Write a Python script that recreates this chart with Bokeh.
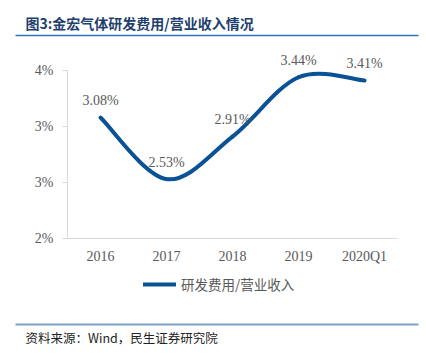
from bokeh.plotting import figure
from bokeh.models import (ColumnDataSource, LabelSet, Label, Legend, LegendItem,
                          FixedTicker, Range1d, LinearAxis)
from bokeh.core.properties import value
from bokeh.embed import file_html
from bokeh.resources import INLINE

# ---- data ----
categories = ["2016", "2017", "2018", "2019", "2020Q1"]
ratio = [3.08, 2.53, 2.91, 3.44, 3.41]          # 研发费用/营业收入 (%)
y_ticks = [2.0, 2.5, 3.0, 3.5]
y_tick_labels = ["2%", "3%", "3%", "4%"]
series_name = "研发费用/营业收入"
title_text = "图3:金宏气体研发费用/营业收入情况"
source_text = "资料来源：Wind，民生证券研究院"

# ---- styles ----
LINE_COLOR = "#0A5296"
TEXT_GRAY = "#595959"
AXIS_GRAY = "#D9D9D9"
SERIF = "Liberation Serif"
CJK = "Noto Sans CJK SC"

# geometry (canvas pixels): value area 67..397 x 70..238; the frame spans the rules
W, H = 426, 356
FL, FR, FT, FB = 67, 397, 70, 238
F_LEFT, F_RIGHT, F_TOP, F_BOTTOM = 15, 418, 35, 324
X0, X1 = 0, len(categories)
Y0, Y1 = y_ticks[0], y_ticks[-1]
PX_X = (FR - FL) / (X1 - X0)
PX_Y = (FB - FT) / (Y1 - Y0)


def dx(cx):  # canvas x -> data x (for decorations)
    return X0 + (cx - FL) / PX_X


def dy(cy):  # canvas y -> data y
    return Y0 + (FB - cy) / PX_Y


xpos = [i + 0.5 for i in range(len(categories))]

# smoothed line (Catmull-Rom style Bezier segments through the data points)
n = len(ratio)
pts = list(zip(xpos, ratio))


def pt(i):
    return pts[max(0, min(n - 1, i))]


seg = dict(x0=[], y0=[], x1=[], y1=[], cx0=[], cy0=[], cx1=[], cy1=[])
for i in range(n - 1):
    a, b, c, d = pt(i - 1), pt(i), pt(i + 1), pt(i + 2)
    seg["x0"].append(b[0]); seg["y0"].append(b[1])
    seg["x1"].append(c[0]); seg["y1"].append(c[1])
    seg["cx0"].append(b[0] + (c[0] - a[0]) / 6); seg["cy0"].append(b[1] + (c[1] - a[1]) / 6)
    seg["cx1"].append(c[0] - (d[0] - b[0]) / 6); seg["cy1"].append(c[1] - (d[1] - b[1]) / 6)

p = figure(width=W, height=H,
           x_range=Range1d(dx(F_LEFT), dx(F_RIGHT)), y_range=Range1d(dy(F_BOTTOM), dy(F_TOP)),
           output_backend="svg", toolbar_location=None, title=None,
           min_border_left=F_LEFT, min_border_right=W - F_RIGHT,
           min_border_top=F_TOP, min_border_bottom=H - F_BOTTOM)
p.outline_line_color = None
p.grid.visible = False

xa = p.xaxis[0]
xa.fixed_location = Y0
xa.bounds = (X0, X1)
xa.ticker = FixedTicker(ticks=xpos)
xa.major_label_overrides = {x: c for x, c in zip(xpos, categories)}
xa.axis_line_color = AXIS_GRAY
xa.major_tick_out = 0
xa.major_tick_in = 0
xa.minor_tick_out = 0
xa.minor_tick_in = 0
xa.major_label_standoff = 10
xa.major_label_text_font = SERIF
xa.major_label_text_font_size = "14px"
xa.major_label_text_color = TEXT_GRAY

ya = p.yaxis[0]
ya.fixed_location = X0
ya.bounds = (Y0, Y1)
ya.ticker = FixedTicker(ticks=y_ticks)
ya.major_label_overrides = {t: l for t, l in zip(y_ticks, y_tick_labels)}
ya.axis_line_color = AXIS_GRAY
ya.major_tick_line_color = AXIS_GRAY
ya.major_tick_out = 5
ya.major_tick_in = 0
ya.minor_tick_out = 0
ya.minor_tick_in = 0
ya.major_label_standoff = 9
ya.major_label_text_font = SERIF
ya.major_label_text_font_size = "14px"
ya.major_label_text_color = TEXT_GRAY

r = p.bezier(x0="x0", y0="y0", x1="x1", y1="y1", cx0="cx0", cy0="cy0", cx1="cx1", cy1="cy1",
             source=ColumnDataSource(seg), line_color=LINE_COLOR, line_width=4, line_cap="round")

# data labels
lab_src = ColumnDataSource(dict(x=xpos, y=ratio, t=[f"{v:.2f}%" for v in ratio]))
p.add_layout(LabelSet(x="x", y="y", text="t", source=lab_src, y_offset=17,
                      text_align="center", text_baseline="middle",
                      text_font=value(SERIF), text_font_size="14px", text_color=TEXT_GRAY))

# legend (inside the frame, under the x axis)
legend = Legend(items=[LegendItem(label=series_name, renderers=[r])],
                location=(143 - F_LEFT, F_BOTTOM - 294), orientation="horizontal",
                border_line_color=None, background_fill_alpha=0,
                padding=0, spacing=0, margin=0,
                glyph_width=33, glyph_height=16, label_height=16, label_standoff=5,
                label_text_font=CJK, label_text_font_size="13.5px",
                label_text_color=TEXT_GRAY)
p.add_layout(legend, "center")


def rule_axis(color, width):
    return LinearAxis(ticker=FixedTicker(ticks=[]), axis_line_color=color, axis_line_width=width,
                      major_tick_out=0, major_tick_in=0, minor_tick_out=0, minor_tick_in=0,
                      major_label_standoff=0, axis_label=None)


# title rule (line-only axis on the frame's top edge) and title
p.add_layout(rule_axis("#2E75B6", 1.5), "above")
p.add_layout(Label(x=dx(25), y=dy(22), text=title_text, text_font=CJK,
                   text_font_style="bold", text_font_size="14px",
                   text_color="#1F3F6E", text_baseline="middle"), "above")

# source rule (line-only axis on the frame's bottom edge) and source note
p.add_layout(rule_axis("#7F9FC7", 2), "below")
p.add_layout(Label(x=dx(25), y=dy(337), text=source_text, text_font=CJK,
                   text_font_size="12.5px", text_color="#222222",
                   text_baseline="middle"), "below")

open("out.html", "w").write(file_html(p, INLINE))
